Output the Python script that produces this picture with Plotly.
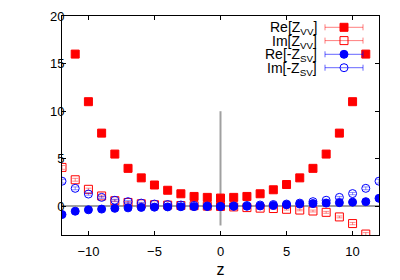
import plotly.graph_objects as go

z = list(range(-12, 13))
re_vv = [None, 16.0, 11.0, 7.7, 5.5, 4.0, 3.0, 2.25, 1.7, 1.33, 1.05, 0.95, 0.88,
         0.95, 1.05, 1.33, 1.75, 2.3, 3.0, 4.0, 5.5, 7.7, 11.0, 16.0, None]
im_vv = [4.1, 2.8, 1.8, 1.1, 0.6, 0.42, 0.28, 0.18, 0.14, 0.1, 0.08, 0.03, 0.0,
         -0.05, -0.12, -0.18, -0.22, -0.3, -0.38, -0.48, -0.62, -1.1, -1.8, -2.9, None]
re_sv = [-0.85, -0.5, -0.35, -0.28, -0.2, -0.15, -0.1, -0.08, -0.05, -0.03, -0.02, -0.01, 0.0,
         0.01, 0.02, 0.05, 0.1, 0.18, 0.25, 0.3, 0.35, 0.4, 0.45, 0.5, 0.85]
im_sv = [2.65, 1.9, 1.3, 0.95, 0.65, 0.5, 0.35, 0.25, 0.2, 0.15, 0.1, 0.05, 0.0,
         0.05, 0.1, 0.15, 0.2, 0.25, 0.35, 0.5, 0.65, 0.95, 1.35, 1.9, 2.65]
err_re = [0.05] * 25
err_im = [0.2, 0.15, 0.12, 0.1, 0.1, 0.1, 0.08, 0.08, 0.08, 0.06, 0.06, 0.05, 0.05,
          0.05, 0.06, 0.06, 0.08, 0.08, 0.08, 0.1, 0.1, 0.1, 0.12, 0.15, 0.2]

labels = ["Re[Z<sub>VV</sub>]", "Im[Z<sub>VV</sub>]",
          "Re[-Z<sub>SV</sub>]", "Im[-Z<sub>SV</sub>]"]
colors = ["#ff0000", "#ff0000", "#0000ff", "#0000ff"]
ecolors = ["rgba(255,0,0,0.45)", "rgba(255,0,0,0.45)", "rgba(0,0,255,0.45)", "rgba(0,0,255,0.45)"]
symbols = ["square", "square-open", "circle", "circle-open"]
series = [re_vv, im_vv, re_sv, im_sv]
errs = [err_re, err_im, err_re, err_im]

fig = go.Figure()
for lab, col, ecol, sym, ys, er in zip(labels, colors, ecolors, symbols, series, errs):
    fig.add_trace(go.Scatter(
        x=z, y=ys, mode="markers", showlegend=False,
        marker=dict(symbol=sym, size=8, color=col, line=dict(color=col, width=1)),
        error_y=dict(type="data", array=er, color=ecol, thickness=1, width=3),
        cliponaxis=True,
    ))

# custom legend (symbol right of right-aligned text, gnuplot style)
W, H = 317.0, 219.0
leg_x = (344 - 62) / W
half = 19 / W
rows_px = [27.3, 40.6, 54.3, 67.7]
ann = []
lcolors = ["rgba(255,0,0,0.5)", "rgba(255,0,0,0.5)", "rgba(0,0,255,0.6)", "rgba(0,0,255,0.6)"]
for lab, col, lcol, sym, ypx in zip(labels, colors, lcolors, symbols, rows_px):
    yp = (235 - ypx) / H
    fig.add_trace(go.Scatter(
        x=[leg_x], y=[yp], xaxis="x2", yaxis="y2", mode="markers", showlegend=False,
        marker=dict(symbol=sym, size=8, color=col, line=dict(color=col, width=1)),
        error_x=dict(type="data", array=[half], color=lcol, thickness=1, width=3),
        hoverinfo="skip",
    ))
    ann.append(dict(x=(318 - 62) / W, y=yp, xref="paper", yref="paper", text=lab,
                    showarrow=False, xanchor="right", yanchor="middle", yshift=-1,
                    borderpad=0,
                    font=dict(family="Liberation Sans, Arial", size=14, color="black")))

# page body has an 8px default margin, so the figure is 392x272 placed at (8, 8)
fig.update_layout(
    width=392, height=272,
    margin=dict(l=54, r=21, t=8, b=45),
    paper_bgcolor="white", plot_bgcolor="white",
    showlegend=False,
    font=dict(family="Liberation Sans, Arial", size=13, color="black"),
    annotations=ann,
    shapes=[dict(type="line", xref="x", yref="y", x0=0, x1=0, y0=-2, y1=10,
                 line=dict(color="#a0a0a0", width=2), layer="below")],
    xaxis=dict(range=[-12, 12], tickvals=[-10, -5, 0, 5, 10], ticks="inside", ticklen=4,
               showgrid=False, zeroline=False, showline=True, linecolor="black", linewidth=1,
               mirror="ticks", tickcolor="black", automargin=False, ticklabelstandoff=4,
               title=dict(text="z", standoff=6)),
    yaxis=dict(range=[-3, 20], tickvals=[0, 5, 10, 15, 20], ticks="inside", ticklen=4,
               showgrid=False, zeroline=True, zerolinecolor="#a0a0a0", zerolinewidth=2,
               showline=True, linecolor="black", linewidth=1, mirror="ticks", tickcolor="black",
               automargin=False, ticklabelstandoff=-6),
    xaxis2=dict(overlaying="x", range=[0, 1], visible=False),
    yaxis2=dict(overlaying="y", range=[0, 1], visible=False),
)

fig.write_html("out.html")
